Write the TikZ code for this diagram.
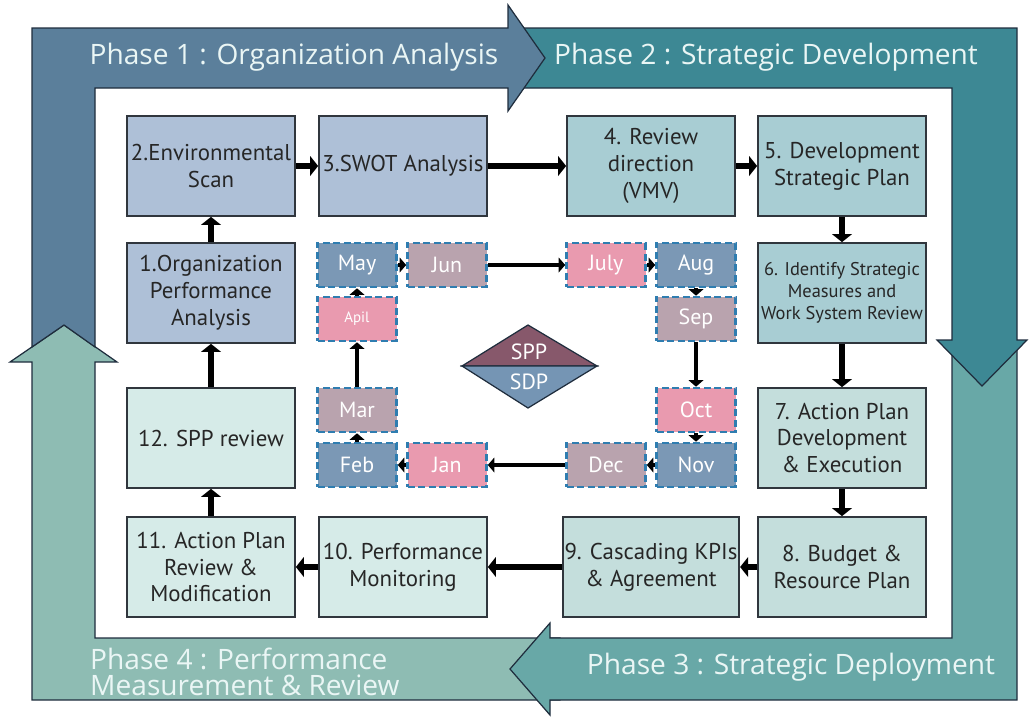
\documentclass[tikz,border=0pt]{standalone}
\usepackage{fontspec}
\setmainfont{PT Sans}
\newfontfamily\phasefont{Open Sans}
\usetikzlibrary{arrows.meta, positioning}
\definecolor{phaseone}{HTML}{5B7F9B}
\definecolor{phasetwo}{HTML}{3D8894}
\definecolor{phasethree}{HTML}{68A8A7}
\definecolor{phasefour}{HTML}{8EBCB3}
\definecolor{phaseline}{HTML}{1F2D3D}
\definecolor{phasetext}{HTML}{EAF6F5}
\definecolor{boxline}{HTML}{30363D}
\definecolor{analysisfill}{HTML}{AEC0D7}
\definecolor{developfill}{HTML}{A8CDD3}
\definecolor{deployfill}{HTML}{C4DEDC}
\definecolor{reviewfill}{HTML}{D6EBE8}
\definecolor{monthline}{HTML}{2F7DB0}
\definecolor{monthblue}{HTML}{7B98B5}
\definecolor{monthmauve}{HTML}{B9A3AE}
\definecolor{monthpink}{HTML}{E99AAF}
\definecolor{sppfill}{HTML}{87586B}
\definecolor{sdpfill}{HTML}{7595B4}

\tikzset{
  stepbox/.style={draw=boxline, line width=1pt, minimum width=33.6mm, minimum height=20mm,
    align=center, inner sep=1pt, text=black!85, font=\fontsize{13}{15.3}\selectfont},
  monthbox/.style={draw=monthline, dash pattern=on 4pt off 2pt, line width=1.5pt,
    minimum width=15.8mm, minimum height=8.8mm, text=white, font=\fontsize{12.5}{14}\selectfont},
  flow/.style={line width=3.6pt, -{Triangle[length=1.6mm,width=4mm,line width=0pt]}},
  monthflow/.style={line width=2.4pt, -{Triangle[length=1.3mm,width=3mm,line width=0pt]}},
  phaseband/.style={draw=phaseline, line width=0.7pt},
  phaselabel/.style={text=phasetext, font=\phasefont\fontsize{16}{17}\selectfont},
}

\begin{document}
\begin{tikzpicture}[x=0.2mm, y=-0.2mm]
  \useasboundingbox (0,0) rectangle (1029,718);

  % phase bands, back to front
  \draw[phaseband, fill=phasefour] (32,700) -- (32,362) -- (10,362) -- (64,325) -- (117,362)
    -- (95,362) -- (95,638) -- (560,638) -- (560,700) -- cycle;
  \draw[phaseband, fill=phasethree] (952,345) -- (1017,345) -- (1017,700) -- (550,700)
    -- (550,715) -- (510,669) -- (550,623) -- (550,638) -- (952,638) -- cycle;
  \draw[phaseband, fill=phasetwo] (520,28) -- (1017,28) -- (1017,340) -- (1027,340)
    -- (982,386) -- (937,340) -- (952,340) -- (952,88) -- (520,88) -- cycle;
  \draw[phaseband, fill=phaseone] (64,325) -- (32,347) -- (32,28) -- (508,28) -- (508,5)
    -- (545,58) -- (508,111) -- (508,88) -- (95,88) -- (95,347) -- cycle;

  \node[phaselabel] (p1) at (294,57) {Phase 1 : Organization Analysis};
  \node[phaselabel] (p2) at (766,57) {Phase 2 : Strategic Development};
  \node[phaselabel] (p3) at (791,667) {Phase 3 : Strategic Deployment};
  \node[phaselabel, anchor=west, align=left, font=\phasefont\fontsize{16}{14.5}\selectfont]
    (p4) at (84,672) {Phase 4 : Performance\\Measurement \& Review};

  % steps
  \node[stepbox, fill=analysisfill] (s2) at (211,166) {2.Environmental\\Scan};
  \node[stepbox, fill=analysisfill] (s3) at (403,166) {3.SWOT Analysis};
  \node[stepbox, fill=developfill] (s4) at (651,166) {4. Review\\direction\\(VMV)};
  \node[stepbox, fill=developfill] (s5) at (842,166) {5. Development\\Strategic Plan};
  \node[stepbox, fill=analysisfill] (s1) at (211,293) {1.Organization\\Performance\\Analysis};
  \node[stepbox, fill=developfill, font=\fontsize{10.5}{12.5}\selectfont] (s6) at (842,293)
    {6. Identify Strategic\\Measures and\\Work System Review};
  \node[stepbox, fill=reviewfill] (s12) at (211,438) {12. SPP review};
  \node[stepbox, fill=deployfill] (s7) at (842,438) {7. Action Plan\\Development\\\& Execution};
  \node[stepbox, fill=reviewfill] (s11) at (211,567) {11. Action Plan\\Review \&\\Modification};
  \node[stepbox, fill=reviewfill] (s10) at (403,567) {10. Performance\\Monitoring};
  \node[stepbox, fill=deployfill] (s9) at (651,567) {9. Cascading KPIs\\\& Agreement};
  \node[stepbox, fill=deployfill] (s8) at (842,567) {8. Budget \&\\Resource Plan};

  \draw[flow] (s1) -- (s2);
  \draw[flow] (s2) -- (s3);
  \draw[flow] (s3) -- (s4);
  \draw[flow] (s4) -- (s5);
  \draw[flow] (s5) -- (s6);
  \draw[flow] (s6) -- (s7);
  \draw[flow] (s7) -- (s8);
  \draw[flow] (s8) -- (s9);
  \draw[flow] (s9) -- (s10);
  \draw[flow] (s10) -- (s11);
  \draw[flow] (s11) -- (s12);
  \draw[flow] (s12) -- (s1);

  % months
  \node[monthbox, fill=monthblue] (may) at (357,265) {May};
  \node[monthbox, fill=monthmauve] (jun) at (447,265) {Jun};
  \node[monthbox, fill=monthpink] (jul) at (606,265) {July};
  \node[monthbox, fill=monthblue] (aug) at (696,265) {Aug};
  \node[monthbox, fill=monthpink, font=\fontsize{8.5}{10}\selectfont] (apr) at (357,319) {Apil};
  \node[monthbox, fill=monthmauve] (sep) at (696,319) {Sep};
  \node[monthbox, fill=monthmauve] (mar) at (357,410) {Mar};
  \node[monthbox, fill=monthpink] (oct) at (696,410) {Oct};
  \node[monthbox, fill=monthblue] (feb) at (357,465) {Feb};
  \node[monthbox, fill=monthpink] (jan) at (447,465) {Jan};
  \node[monthbox, fill=monthmauve] (dec) at (606,465) {Dec};
  \node[monthbox, fill=monthblue] (nov) at (696,465) {Nov};

  \draw[monthflow] (may) -- (jun);
  \draw[monthflow] (jun) -- (jul);
  \draw[monthflow] (jul) -- (aug);
  \draw[monthflow] (aug) -- (sep);
  \draw[monthflow] (sep) -- (oct);
  \draw[monthflow] (oct) -- (nov);
  \draw[monthflow] (nov) -- (dec);
  \draw[monthflow] (dec) -- (jan);
  \draw[monthflow] (jan) -- (feb);
  \draw[monthflow] (feb) -- (mar);
  \draw[monthflow] (mar) -- (apr);
  \draw[monthflow] (apr) -- (may);

  % centre diamond
  \draw[draw=phaseline, line width=0.7pt, fill=sppfill] (462,366) -- (528,325) -- (597,366) -- cycle;
  \draw[draw=phaseline, line width=0.7pt, fill=sdpfill] (462,366) -- (528,408) -- (597,366) -- cycle;
  \node[text=white, font=\fontsize{12.5}{14}\selectfont] (spp) at (529,352) {SPP};
  \node[text=white, font=\fontsize{12.5}{14}\selectfont] (sdp) at (529,382) {SDP};
\end{tikzpicture}
\end{document}
